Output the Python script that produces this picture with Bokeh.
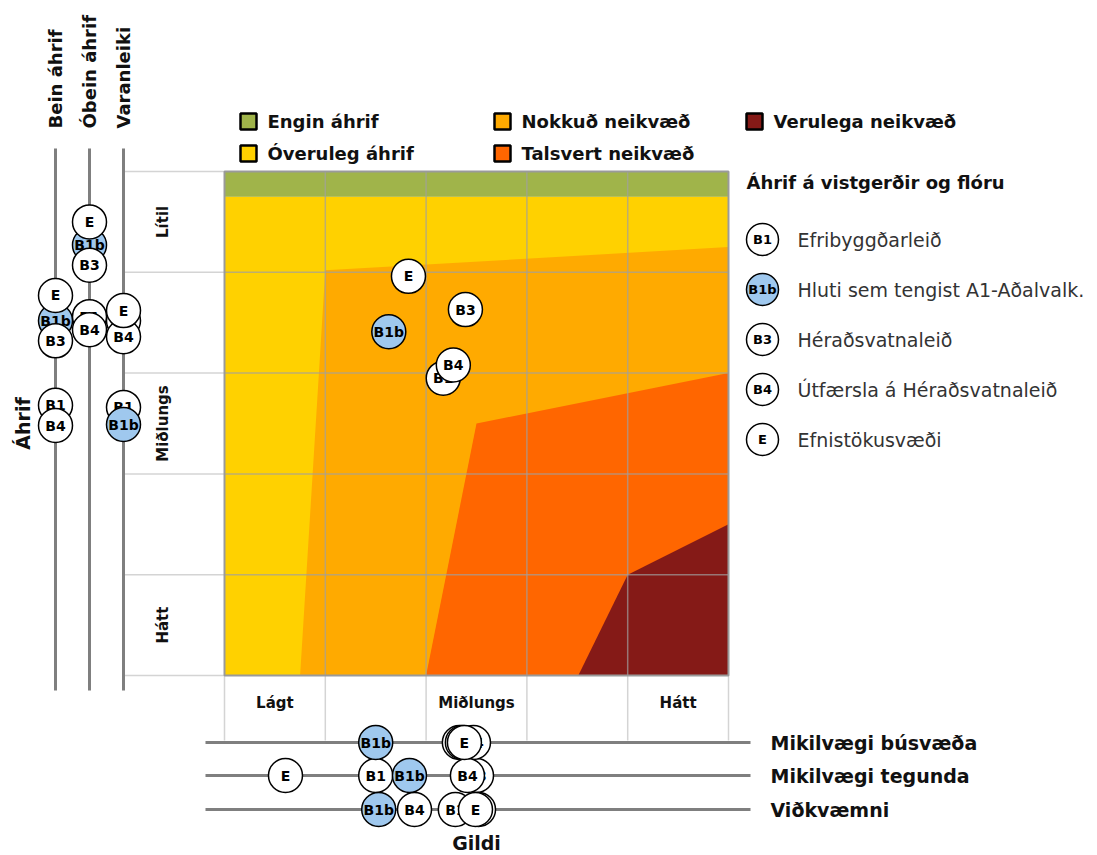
import math
from bokeh.plotting import figure
from bokeh.models import Range1d
from bokeh.core.properties import value
from bokeh.embed import file_html
from bokeh.resources import INLINE

# ---------------- data ----------------
alts = ["B1", "B1b", "B3", "B4", "E"]
alt_names = ["Efribyggðarleið", "Hluti sem tengist A1-Aðalvalk.", "Héraðsvatnaleið",
             "Útfærsla á Héraðsvatnaleið", "Efnistökusvæði"]
alt_fill = ["white", "#9fc8ee", "white", "white", "white"]

# overall position (Gildi, Áhrif) on 0..5 scales
gildi = [2.17, 1.63, 2.39, 2.27, 1.825]
ahrif = [2.95, 3.41, 3.63, 3.08, 3.96]

# Áhrif sub-axes (vertical)
bein_ahrif = [2.68, 3.52, 3.32, 2.48, 3.77]
obein_ahrif = [3.56, 4.27, 4.07, 3.43, 4.50]
varanleiki = [2.66, 2.49, 3.52, 3.36, 3.62]

# Gildi sub-axes (horizontal)
busvaeda = [2.33, 1.50, 2.36, 2.47, 2.38]
tegunda = [1.50, 1.835, 2.50, 2.41, 0.605]
vidkvaemni = [2.29, 1.53, 2.52, 1.885, 2.49]

left_axis_names = ["Bein áhrif", "Óbein áhrif", "Varanleiki"]
bottom_axis_names = ["Mikilvægi búsvæða", "Mikilvægi tegunda", "Viðkvæmni"]

y_tick_pos = [4.5, 2.5, 0.5]
y_tick_labels = ["Lítil", "Miðlungs", "Hátt"]
x_tick_pos = [0.5, 2.5, 4.5]
x_tick_labels = ["Lágt", "Miðlungs", "Hátt"]

zone_names = ["Engin áhrif", "Óveruleg áhrif", "Nokkuð neikvæð", "Talsvert neikvæð", "Verulega neikvæð"]
zone_colors = ["#a0b44a", "#ffd100", "#ffaa00", "#ff6600", "#851a17"]

# zone boundaries (data units)
engin_x = [0, 5, 5, 0]
engin_y = [4.75, 4.75, 5, 5]
overuleg_x = [0, 0.75, 1.0, 5.0, 5.0, 0]
overuleg_y = [0, 0, 4.02, 4.25, 4.75, 4.75]
nokkud_x = [0, 5, 5, 0]
nokkud_y = [0, 0, 4.75, 4.75]
talsvert_x = [2.0, 2.5, 5.0, 5.0]
talsvert_y = [0, 2.5, 3.0, 0]
verulega_x = [3.51, 4.0, 5.0, 5.0]
verulega_y = [0, 1.0, 1.5, 0]

# ---------------- layout ----------------
FONT = "DejaVu Sans"
W, H = 1096, 854
PX0, PY0, U = 224, 675, 100.8


def dx(px):
    return (px - PX0) / U


def dy(py):
    return (PY0 - py) / U


p = figure(width=W, height=H, x_range=Range1d(dx(0), dx(W)),
           y_range=Range1d(dy(H), dy(0)), output_backend="svg",
           toolbar_location=None, min_border=0,
           x_axis_location=None, y_axis_location=None)
p.grid.visible = False
p.outline_line_color = None
p.background_fill_color = "white"
p.border_fill_color = "white"

# zones
p.patch(nokkud_x, nokkud_y, fill_color=zone_colors[2], line_color=None)
p.patch(overuleg_x, overuleg_y, fill_color=zone_colors[1], line_color=None)
p.patch(talsvert_x, talsvert_y, fill_color=zone_colors[3], line_color=None)
p.patch(verulega_x, verulega_y, fill_color=zone_colors[4], line_color=None)
p.patch(engin_x, engin_y, fill_color=zone_colors[0], line_color=None)

# inner grid
inner = [1, 2, 3, 4]
p.segment(x0=inner, y0=[0] * 4, x1=inner, y1=[5] * 4, line_color="#a0a0a0", line_alpha=0.7, line_width=1.5)
p.segment(x0=[0] * 4, y0=inner, x1=[5] * 4, y1=inner, line_color="#a0a0a0", line_alpha=0.7, line_width=1.5)

# tick boxes
edges = [0, 1, 2, 3, 4, 5]
p.segment(x0=[dx(124)] * 6, y0=edges, x1=[0] * 6, y1=edges, line_color="#d4d4d4", line_width=1.5)
p.segment(x0=edges, y0=[dy(740)] * 6, x1=edges, y1=[0] * 6, line_color="#d4d4d4", line_width=1.5)

# frame
p.quad(left=0, right=5, bottom=0, top=5, fill_color=None, line_color="#9a9a9a", line_width=2)

# tick labels
p.text(x=[dx(162)] * 3, y=y_tick_pos, text=y_tick_labels, angle=math.pi / 2,
       text_align="center", text_baseline="middle", text_font=value(FONT),
       text_font_style="bold", text_font_size="15px", text_color="#111")
p.text(x=x_tick_pos, y=[dy(702)] * 3, text=x_tick_labels,
       text_align="center", text_baseline="middle", text_font=value(FONT),
       text_font_style="bold", text_font_size="15px", text_color="#111")

# sub-axes lines
left_x = [dx(55), dx(89), dx(123)]
bottom_y = [dy(742), dy(775), dy(809)]
p.segment(x0=left_x, y0=[dy(690)] * 3, x1=left_x, y1=[dy(148)] * 3, line_color="#7f7f7f", line_width=3)
p.segment(x0=[dx(205)] * 3, y0=bottom_y, x1=[dx(750)] * 3, y1=bottom_y, line_color="#7f7f7f", line_width=3)

# sub-axes titles
p.text(x=left_x, y=[dy(128)] * 3, text=left_axis_names, angle=math.pi / 2,
       text_align="left", text_baseline="middle", text_font=value(FONT),
       text_font_style="bold", text_font_size="18px", text_color="#111")
p.text(x=[dx(770)] * 3, y=bottom_y, text=bottom_axis_names,
       text_align="left", text_baseline="middle", text_font=value(FONT),
       text_font_style="bold", text_font_size="19px", text_color="#111")
p.text(x=[dx(22)], y=[2.5], text=["Áhrif"], angle=math.pi / 2,
       text_align="center", text_baseline="middle", text_font=value(FONT),
       text_font_style="bold", text_font_size="19px", text_color="#111")
p.text(x=[2.5], y=[dy(842)], text=["Gildi"],
       text_align="center", text_baseline="middle", text_font=value(FONT),
       text_font_style="bold", text_font_size="19px", text_color="#111")

# markers, layered per alternative
for i, a in enumerate(alts):
    xs = [gildi[i], left_x[0], left_x[1], left_x[2], busvaeda[i], tegunda[i], vidkvaemni[i]]
    ys = [ahrif[i], bein_ahrif[i], obein_ahrif[i], varanleiki[i], bottom_y[0], bottom_y[1], bottom_y[2]]
    p.scatter(xs, ys, size=34, fill_color=alt_fill[i], line_color="black", line_width=1.5)
    p.text(xs, ys, text=[a] * len(xs), text_align="center", text_baseline="middle",
           text_font=value(FONT), text_font_style="bold", text_font_size="14px", text_color="black")

# zone legend
leg_x = [dx(248), dx(248), dx(502), dx(502), dx(754)]
leg_y = [dy(121), dy(153), dy(121), dy(153), dy(121)]
p.scatter(leg_x, leg_y, marker="square", size=16, fill_color=zone_colors,
          line_color="black", line_width=2.5)
p.text([v + dx(267) - dx(248) for v in leg_x], leg_y, text=zone_names,
       text_align="left", text_baseline="middle", text_font=value(FONT),
       text_font_style="bold", text_font_size="18px", text_color="#111")

# alternatives legend
p.text([dx(746)], [dy(182)], text=["Áhrif á vistgerðir og flóru"], text_align="left",
       text_baseline="middle", text_font=value(FONT), text_font_style="bold",
       text_font_size="18px", text_color="#111")
lg_y = [dy(239 + 50 * k) for k in range(5)]
p.scatter([dx(762)] * 5, lg_y, size=32, fill_color=alt_fill, line_color="black", line_width=1.5)
p.text([dx(762)] * 5, lg_y, text=alts, text_align="center", text_baseline="middle",
       text_font=value(FONT), text_font_style="bold", text_font_size="13px", text_color="black")
p.text([dx(797)] * 5, lg_y, text=alt_names, text_align="left", text_baseline="middle",
       text_font=value(FONT), text_font_size="19px", text_color="#333")

open("out.html", "w").write(file_html(p, INLINE))
